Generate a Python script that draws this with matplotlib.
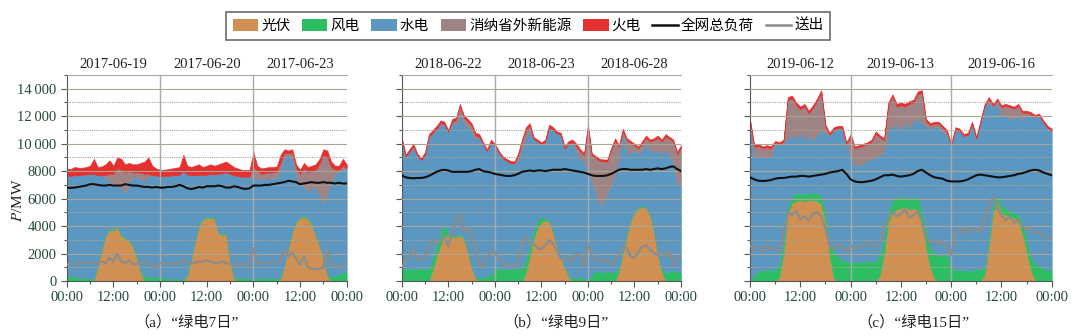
import numpy as np
import matplotlib
matplotlib.use('Agg')
import matplotlib.pyplot as plt
from matplotlib.patches import Patch
from matplotlib.lines import Line2D
from matplotlib.ticker import MultipleLocator, FixedLocator, FuncFormatter

plt.rcParams['font.family'] = ['Liberation Serif', 'Noto Sans CJK SC', 'DejaVu Sans']
plt.rcParams['mathtext.fontset'] = 'stix'

# hourly samples 00:00 day 1 .. 00:00 after day 3
hours = np.arange(0, 73)

series_names = ['光伏', '风电', '水电', '消纳省外新能源', '火电']
line_names = ['全网总负荷', '送出']
area_colors = ['#d18f52', '#2dbe64', '#5b97c0', '#9e8484', '#e63030']
load_color = '#111111'
send_color = '#8c8c8c'

# ---- (a) 绿电7日 ----
a_dates = ['2017-06-19', '2017-06-20', '2017-06-23']
a_solar = [0, 0, 0, 0, 0, 0, 0, 100, 1100, 2300, 3300, 3700,
           3700, 3900, 3300, 3100, 2900, 2500, 1700, 600, 0, 0, 0, 0,
           0, 0, 0, 0, 0, 0, 0, 400, 1600, 2900, 4000, 4500,
           4600, 4600, 4500, 3500, 3300, 3500, 1500, 200, 0, 0, 0, 0,
           0, 0, 0, 0, 0, 0, 0, 200, 1200, 2400, 3600, 4300,
           4600, 4650, 4500, 4100, 3300, 2600, 1600, 400, 0, 0, 0, 0,
           0]
a_wind = [400, 350, 300, 250, 200, 200, 150, 100, 100, 100, 100, 100,
          100, 100, 100, 100, 100, 100, 100, 100, 300, 350, 300, 250,
          300, 250, 200, 150, 150, 150, 150, 100, 100, 100, 100, 100,
          100, 100, 100, 100, 100, 100, 100, 100, 200, 250, 250, 200,
          150, 200, 200, 200, 250, 200, 200, 100, 100, 100, 100, 100,
          100, 100, 100, 100, 100, 100, 100, 100, 300, 400, 500, 600,
          650]
a_hydro = [7300, 7300, 7400, 7450, 7550, 7550, 7650, 7600, 6500, 5300, 4200, 3400,
           3200, 2900, 3400, 3200, 4300, 4900, 5800, 6700, 7000, 7250, 7400, 7450,
           7300, 7400, 7450, 7550, 7550, 7600, 7850, 7250, 6000, 4700, 3650, 3100,
           3050, 3100, 3150, 4200, 4450, 4300, 6200, 7400, 7450, 7350, 7350, 7400,
           7350, 7200, 7200, 7250, 7200, 7300, 7300, 7900, 7800, 6700, 5200, 3200,
           2300, 2150, 1900, 2700, 3300, 3600, 3900, 5900, 6900, 7400, 7500, 7600,
           7450]
a_ext = [0, 0, 0, 0, 0, 0, 0, 0, 0, 0, 100, 600,
         800, 1300, 1300, 1500, 700, 400, 300, 500, 500, 200, 0, 0,
         0, 0, 0, 0, 0, 0, 0, 0, 0, 0, 0, 0,
         0, 0, 0, 0, 0, 0, 0, 0, 0, 0, 0, 0,
         800, 600, 400, 400, 450, 400, 450, 400, 200, 100, 400, 600,
         800, 1300, 1400, 1100, 1400, 2200, 3600, 2600, 1100, 300, 100, 200,
         100]
a_thermal = [500, 500, 600, 550, 500, 550, 600, 1100, 600, 650, 800, 1000,
             600, 800, 800, 600, 600, 600, 600, 700, 900, 1200, 700, 500,
             500, 450, 500, 500, 550, 550, 1200, 650, 600, 700, 750, 600,
             650, 700, 650, 700, 750, 800, 700, 600, 550, 500, 500, 500,
             1100, 400, 400, 400, 400, 400, 400, 600, 300, 200, 300, 300,
             300, 400, 400, 400, 400, 400, 400, 500, 400, 300, 300, 500,
             300]
a_load = [6800, 6780, 6800, 6850, 6900, 6950, 7050, 7050, 7000, 6950, 6950, 7000,
          6950, 6950, 6950, 7050, 7000, 6950, 6950, 6900, 6850, 6850, 6800, 6850,
          6800, 6800, 6850, 6850, 6900, 7000, 6900, 6750, 6700, 6750, 6850, 6800,
          6900, 6900, 6900, 6950, 6900, 6800, 6800, 6900, 6850, 6750, 6700, 6750,
          6950, 6950, 6950, 7000, 7000, 7050, 7100, 7150, 7200, 7300, 7250, 7200,
          7050, 7100, 7150, 7200, 7150, 7150, 7200, 7150, 7150, 7100, 7150, 7100,
          7100]
a_send = [1200, 1250, 1200, 1300, 1400, 1250, 1300, 1300, 1350, 1400, 1300, 1700,
          1400, 2000, 1400, 1300, 1500, 1200, 1250, 1300, 1500, 1400, 1000, 1000,
          1300, 1200, 1300, 1250, 1300, 1300, 1600, 1300, 1300, 1350, 1400, 1400,
          1500, 1400, 1300, 1350, 1400, 1300, 1250, 1200, 1200, 1200, 1250, 1200,
          2400, 1300, 1300, 1300, 1350, 1400, 1400, 1500, 2300, 1800, 2100, 1600,
          1200, 1800, 1000, 900, 850, 900, 1000, 2300, 1200, 1100, 1050, 1100,
          1500]

# ---- (b) 绿电9日 ----
b_dates = ['2018-06-22', '2018-06-23', '2018-06-28']
b_solar = [0, 0, 0, 0, 0, 0, 0, 0, 800, 1800, 2600, 3200,
           3300, 3200, 3200, 3300, 3100, 2200, 1000, 200, 0, 0, 0, 0,
           0, 0, 0, 0, 0, 0, 0, 0, 600, 1800, 3000, 3900,
           4300, 4400, 4300, 3600, 2500, 1700, 1000, 300, 0, 0, 0, 0,
           0, 0, 0, 0, 0, 0, 0, 0, 700, 2000, 3300, 4400,
           5000, 5300, 5400, 5300, 4800, 3700, 2000, 700, 0, 0, 0, 0,
           0]
b_wind = [900, 900, 900, 850, 900, 900, 900, 900, 900, 800, 900, 1000,
          200, 100, 100, 100, 100, 100, 100, 100, 200, 300, 400, 400,
          900, 900, 900, 850, 900, 900, 900, 1000, 1000, 800, 700, 500,
          400, 150, 100, 100, 100, 100, 100, 150, 200, 300, 300, 200,
          100, 500, 700, 700, 600, 700, 700, 600, 300, 200, 200, 100,
          100, 100, 100, 100, 100, 100, 100, 200, 600, 700, 800, 600,
          700]
b_hydro = [9400, 8150, 8500, 8950, 8250, 7900, 8300, 9600, 9100, 8500, 8000, 7200,
           7350, 8300, 8000, 8900, 8300, 8900, 9800, 10000, 10300, 9650, 9050, 9700,
           8950, 8450, 8050, 7900, 7700, 7650, 7900, 8700, 8900, 8300, 6650, 5750,
           5250, 5600, 6800, 7300, 8150, 8850, 8550, 9550, 9900, 9100, 8600, 8600,
           7900, 6800, 5800, 4800, 5100, 5800, 6300, 7100, 8000, 8600, 5900, 4800,
           4400, 3900, 4100, 4600, 4600, 5600, 7400, 8400, 8900, 8500, 7800, 6500,
           6300]
b_ext = [0, 0, 0, 0, 0, 0, 0, 0, 0, 0, 0, 0,
         0, 0, 400, 400, 400, 400, 400, 300, 0, 0, 0, 0,
         0, 0, 0, 0, 0, 0, 300, 400, 500, 400, 0, 0,
         0, 0, 0, 0, 0, 0, 0, 0, 0, 400, 550, 350,
         3100, 1850, 2450, 3250, 3000, 2200, 2550, 2500, 750, 100, 850, 750,
         350, 350, 450, 400, 650, 850, 900, 850, 1000, 1150, 1550, 2150,
         2700]
b_thermal = [200, 150, 200, 200, 150, 150, 200, 200, 200, 200, 200, 200,
             150, 200, 200, 200, 200, 200, 200, 200, 200, 150, 150, 200,
             150, 150, 150, 150, 150, 150, 200, 200, 200, 200, 150, 150,
             150, 150, 200, 200, 150, 150, 150, 200, 200, 200, 150, 150,
             300, 150, 150, 150, 150, 150, 150, 200, 150, 200, 150, 150,
             150, 150, 150, 200, 150, 150, 200, 150, 200, 150, 150, 150,
             200]
b_load = [7700, 7550, 7500, 7480, 7500, 7500, 7550, 7650, 7800, 7950, 8050, 8100,
          8050, 7950, 7950, 7950, 7950, 7950, 8000, 8100, 8150, 8000, 7950, 7900,
          7800, 7750, 7700, 7650, 7650, 7700, 7800, 7950, 8000, 8050, 8000, 8050,
          8050, 8000, 8050, 8100, 8100, 8100, 8150, 8100, 8050, 8000, 7950, 7900,
          7800, 7700, 7650, 7650, 7650, 7700, 7800, 7950, 8100, 8150, 8150, 8100,
          8100, 8100, 8100, 8150, 8100, 8150, 8200, 8150, 8200, 8300, 8350, 8150,
          8000]
b_send = [1000, 1500, 1800, 2300, 1600, 1500, 1800, 2600, 3000, 2700, 2900, 3300,
          2500, 3600, 4300, 4900, 3600, 3900, 3200, 2500, 1200, 1000, 1700, 2200,
          2100, 1600, 1400, 1200, 1100, 1100, 1300, 2800, 3200, 2600, 2700, 2400,
          2300, 2600, 3000, 2700, 2200, 1600, 1500, 1700, 1400, 2000, 1900, 1100,
          2700, 1900, 1500, 1400, 1600, 1500, 1200, 1600, 1900, 2500, 2400, 1800,
          1700, 2100, 2500, 2600, 2300, 2000, 1900, 2100, 1800, 2200, 1100, 1800,
          1800]

# ---- (c) 绿电15日 ----
c_dates = ['2019-06-12', '2019-06-13', '2019-06-16']
c_solar = [0, 0, 0, 0, 0, 0, 0, 300, 2000, 4800, 5700, 5800,
           5900, 5800, 5900, 5900, 5800, 5600, 4300, 1800, 200, 0, 0, 0,
           0, 0, 0, 0, 0, 0, 0, 400, 2000, 4300, 5000, 5200,
           5300, 5400, 5200, 5300, 5200, 4200, 2500, 1000, 200, 0, 0, 0,
           0, 0, 0, 0, 0, 0, 0, 0, 500, 2500, 5000, 5800,
           5000, 4800, 4700, 4600, 4300, 3500, 2200, 800, 100, 0, 0, 0,
           0]
c_wind = [200, 400, 700, 800, 800, 800, 850, 900, 800, 600, 500, 600,
          500, 500, 500, 500, 600, 600, 800, 900, 2000, 1800, 1500, 1450,
          1400, 1400, 1350, 1400, 1450, 1400, 1500, 1500, 1200, 900, 900, 900,
          800, 800, 800, 800, 900, 1000, 1300, 1500, 1800, 1900, 1900, 2100,
          900, 850, 800, 800, 750, 800, 850, 900, 400, 600, 700, 400,
          500, 500, 400, 400, 500, 900, 1000, 1000, 1200, 1100, 900, 800,
          800]
c_hydro = [11100, 8600, 8400, 8200, 8200, 8300, 9150, 8700, 7300, 5000, 4400, 4000,
           4400, 4000, 4200, 3800, 4300, 4700, 5700, 7900, 8800, 9300, 9600, 8450,
           7600, 7100, 7050, 7200, 7350, 7500, 7500, 7300, 6200, 5800, 5300, 5300,
           4900, 5300, 5200, 5500, 5700, 6300, 7500, 8600, 9200, 9300, 9000, 8500,
           8950, 10200, 10150, 9750, 9900, 10650, 9500, 10650, 11850, 9900, 6900, 6800,
           6500, 6800, 6700, 6900, 7200, 7400, 8800, 10350, 10650, 10950, 10650, 10350,
           10150]
c_ext = [300, 750, 750, 650, 750, 550, 50, 50, 50, 2800, 2700, 2400,
         1700, 2400, 1600, 2400, 2400, 2800, 400, 50, 50, 50, 50, 50,
         1500, 1150, 1350, 1250, 1150, 1250, 1700, 1250, 850, 1800, 2200, 1300,
         1800, 1200, 1700, 1400, 1800, 2200, 300, 250, 250, 250, 250, 250,
         0, 0, 0, 0, 0, 0, 0, 0, 0, 200, 150, 100,
         650, 650, 850, 650, 750, 450, 250, 0, 0, 0, 0, 0,
         0]
c_thermal = [200, 150, 150, 150, 150, 150, 150, 150, 150, 200, 200, 200,
             200, 200, 200, 200, 200, 200, 200, 150, 150, 150, 150, 150,
             200, 150, 150, 150, 150, 150, 200, 150, 150, 200, 200, 200,
             200, 200, 200, 200, 200, 200, 200, 150, 150, 150, 150, 150,
             150, 150, 150, 150, 150, 150, 150, 150, 150, 200, 150, 200,
             150, 150, 150, 150, 150, 150, 150, 150, 150, 150, 150, 150,
             150]
c_load = [7550, 7400, 7300, 7280, 7300, 7350, 7450, 7500, 7500, 7550, 7600, 7600,
          7650, 7650, 7600, 7650, 7700, 7750, 7800, 7900, 7950, 8000, 8100, 7800,
          7400, 7250, 7200, 7200, 7250, 7300, 7400, 7550, 7700, 7700, 7750, 7650,
          7600, 7650, 7700, 7800, 8000, 8100, 7900, 7700, 7550, 7500, 7450, 7300,
          7250, 7250, 7250, 7300, 7400, 7550, 7700, 7750, 7700, 7650, 7600, 7550,
          7550, 7600, 7650, 7700, 7800, 7850, 7950, 8050, 8100, 8050, 7900, 7800,
          7700]
c_send = [2600, 2300, 2500, 2200, 2600, 2300, 2400, 2200, 3500, 5000, 4800, 5100,
          4500, 4700, 4400, 4900, 5000, 4700, 3800, 2600, 2300, 2700, 2500, 2200,
          2600, 2300, 2500, 2600, 2800, 2500, 2400, 2800, 4000, 4600, 5100, 4700,
          4900, 5200, 4600, 4800, 5100, 4300, 3000, 2800, 3000, 2700, 2900, 2400,
          1900, 3500, 3800, 3400, 3900, 3600, 3800, 3500, 4600, 5400, 6100, 5300,
          4800, 4400, 4700, 4200, 4500, 4000, 3700, 3900, 3600, 3500, 3300, 3200,
          3100]

captions = ['（a）“绿电7日”', '（b）“绿电9日”', '（c）“绿电15日”']

label_color = '#234a35'
grid_color = '#ada494'


def ytick_fmt(v, pos):
    if v >= 10000:
        return '%d\u2009000' % (v // 1000)
    return '%d' % v


def draw_panel(ax, dates, solar, wind, hydro, ext, thermal, load, send, show_ylabels):
    polys = ax.stackplot(hours, solar, wind, hydro, ext, thermal, colors=area_colors)
    for p in polys:
        p.set_edgecolor('face')
        p.set_linewidth(0.4)
    ax.plot(hours, load, color=load_color, lw=1.5, zorder=5)
    ax.plot(hours, send, color=send_color, lw=1.6, zorder=5)

    # grid drawn on top of the areas
    for v in range(1000, 15000, 1000):
        ls = '-' if v % 2000 == 0 else (0, (1, 1))
        ax.axhline(v, color=grid_color, lw=0.8, ls=ls, zorder=4)
    for d in (24, 48):
        ax.axvline(d, color='#aaaaaa', lw=1.0, zorder=4.5)

    ax.set_xlim(0, 72)
    ax.set_ylim(0, 15000)
    ax.xaxis.set_major_locator(FixedLocator([0, 12, 24, 36, 48, 60, 72]))
    ax.set_xticklabels(['00:00', '12:00'] * 3 + ['00:00'])
    ax.xaxis.set_minor_locator(MultipleLocator(6))
    ax.yaxis.set_major_locator(MultipleLocator(2000))
    ax.yaxis.set_minor_locator(MultipleLocator(1000))
    ax.yaxis.set_major_formatter(FuncFormatter(ytick_fmt))
    ax.tick_params(which='both', direction='out', colors='#555555', labelcolor=label_color,
                   labelsize=10.5, width=0.8)
    ax.tick_params(which='major', length=4)
    ax.tick_params(which='minor', length=2.5)
    ax.tick_params(axis='y', labelleft=show_ylabels)

    ax.spines['right'].set_visible(False)
    ax.spines['top'].set_color('#aaaaaa')
    ax.spines['left'].set_color('#555555')
    ax.spines['bottom'].set_color('#555555')

    for i, d in enumerate(dates):
        ax.annotate(d, xy=(12 + 24 * i, 1.0), xycoords=ax.get_xaxis_transform(),
                    xytext=(0, 7.5), textcoords='offset points',
                    ha='center', va='center', fontsize=10.5, color='#222222')


fig = plt.figure(figsize=(10.8, 3.36), dpi=100)
ax_a = fig.add_axes([66.7 / 1080, 1 - 281 / 336, 280 / 1080, 206 / 336])
ax_b = fig.add_axes([401.7 / 1080, 1 - 281 / 336, 279.3 / 1080, 206 / 336])
ax_c = fig.add_axes([750 / 1080, 1 - 281 / 336, 301.7 / 1080, 206 / 336])

draw_panel(ax_a, a_dates, a_solar, a_wind, a_hydro, a_ext, a_thermal, a_load, a_send, True)
draw_panel(ax_b, b_dates, b_solar, b_wind, b_hydro, b_ext, b_thermal, b_load, b_send, False)
draw_panel(ax_c, c_dates, c_solar, c_wind, c_hydro, c_ext, c_thermal, c_load, c_send, False)

fig.text(18 / 1080, 1 - 200 / 336, '$P$/MW', rotation=90, ha='center', va='center',
         fontsize=11, color='#222222')

for x, cap in zip([187, 556, 913], captions):
    fig.text(x / 1080, 1 - 322 / 336, cap, ha='center', va='center', fontsize=11, color='#222222')

handles = [Patch(facecolor=c, edgecolor='none') for c in area_colors]
handles += [Line2D([], [], color=load_color, lw=1.8), Line2D([], [], color=send_color, lw=1.8)]
leg = fig.legend(handles, series_names + line_names, loc='center',
                 bbox_to_anchor=(528 / 1080, 1 - 26 / 336), ncol=7, frameon=True,
                 fancybox=False, edgecolor='#444444', fontsize=10.5,
                 handlelength=1.75, handleheight=0.9, handletextpad=0.2,
                 columnspacing=0.8, borderpad=0.45)
leg.get_frame().set_linewidth(1.2)

fig.savefig('out.png', dpi=100)
